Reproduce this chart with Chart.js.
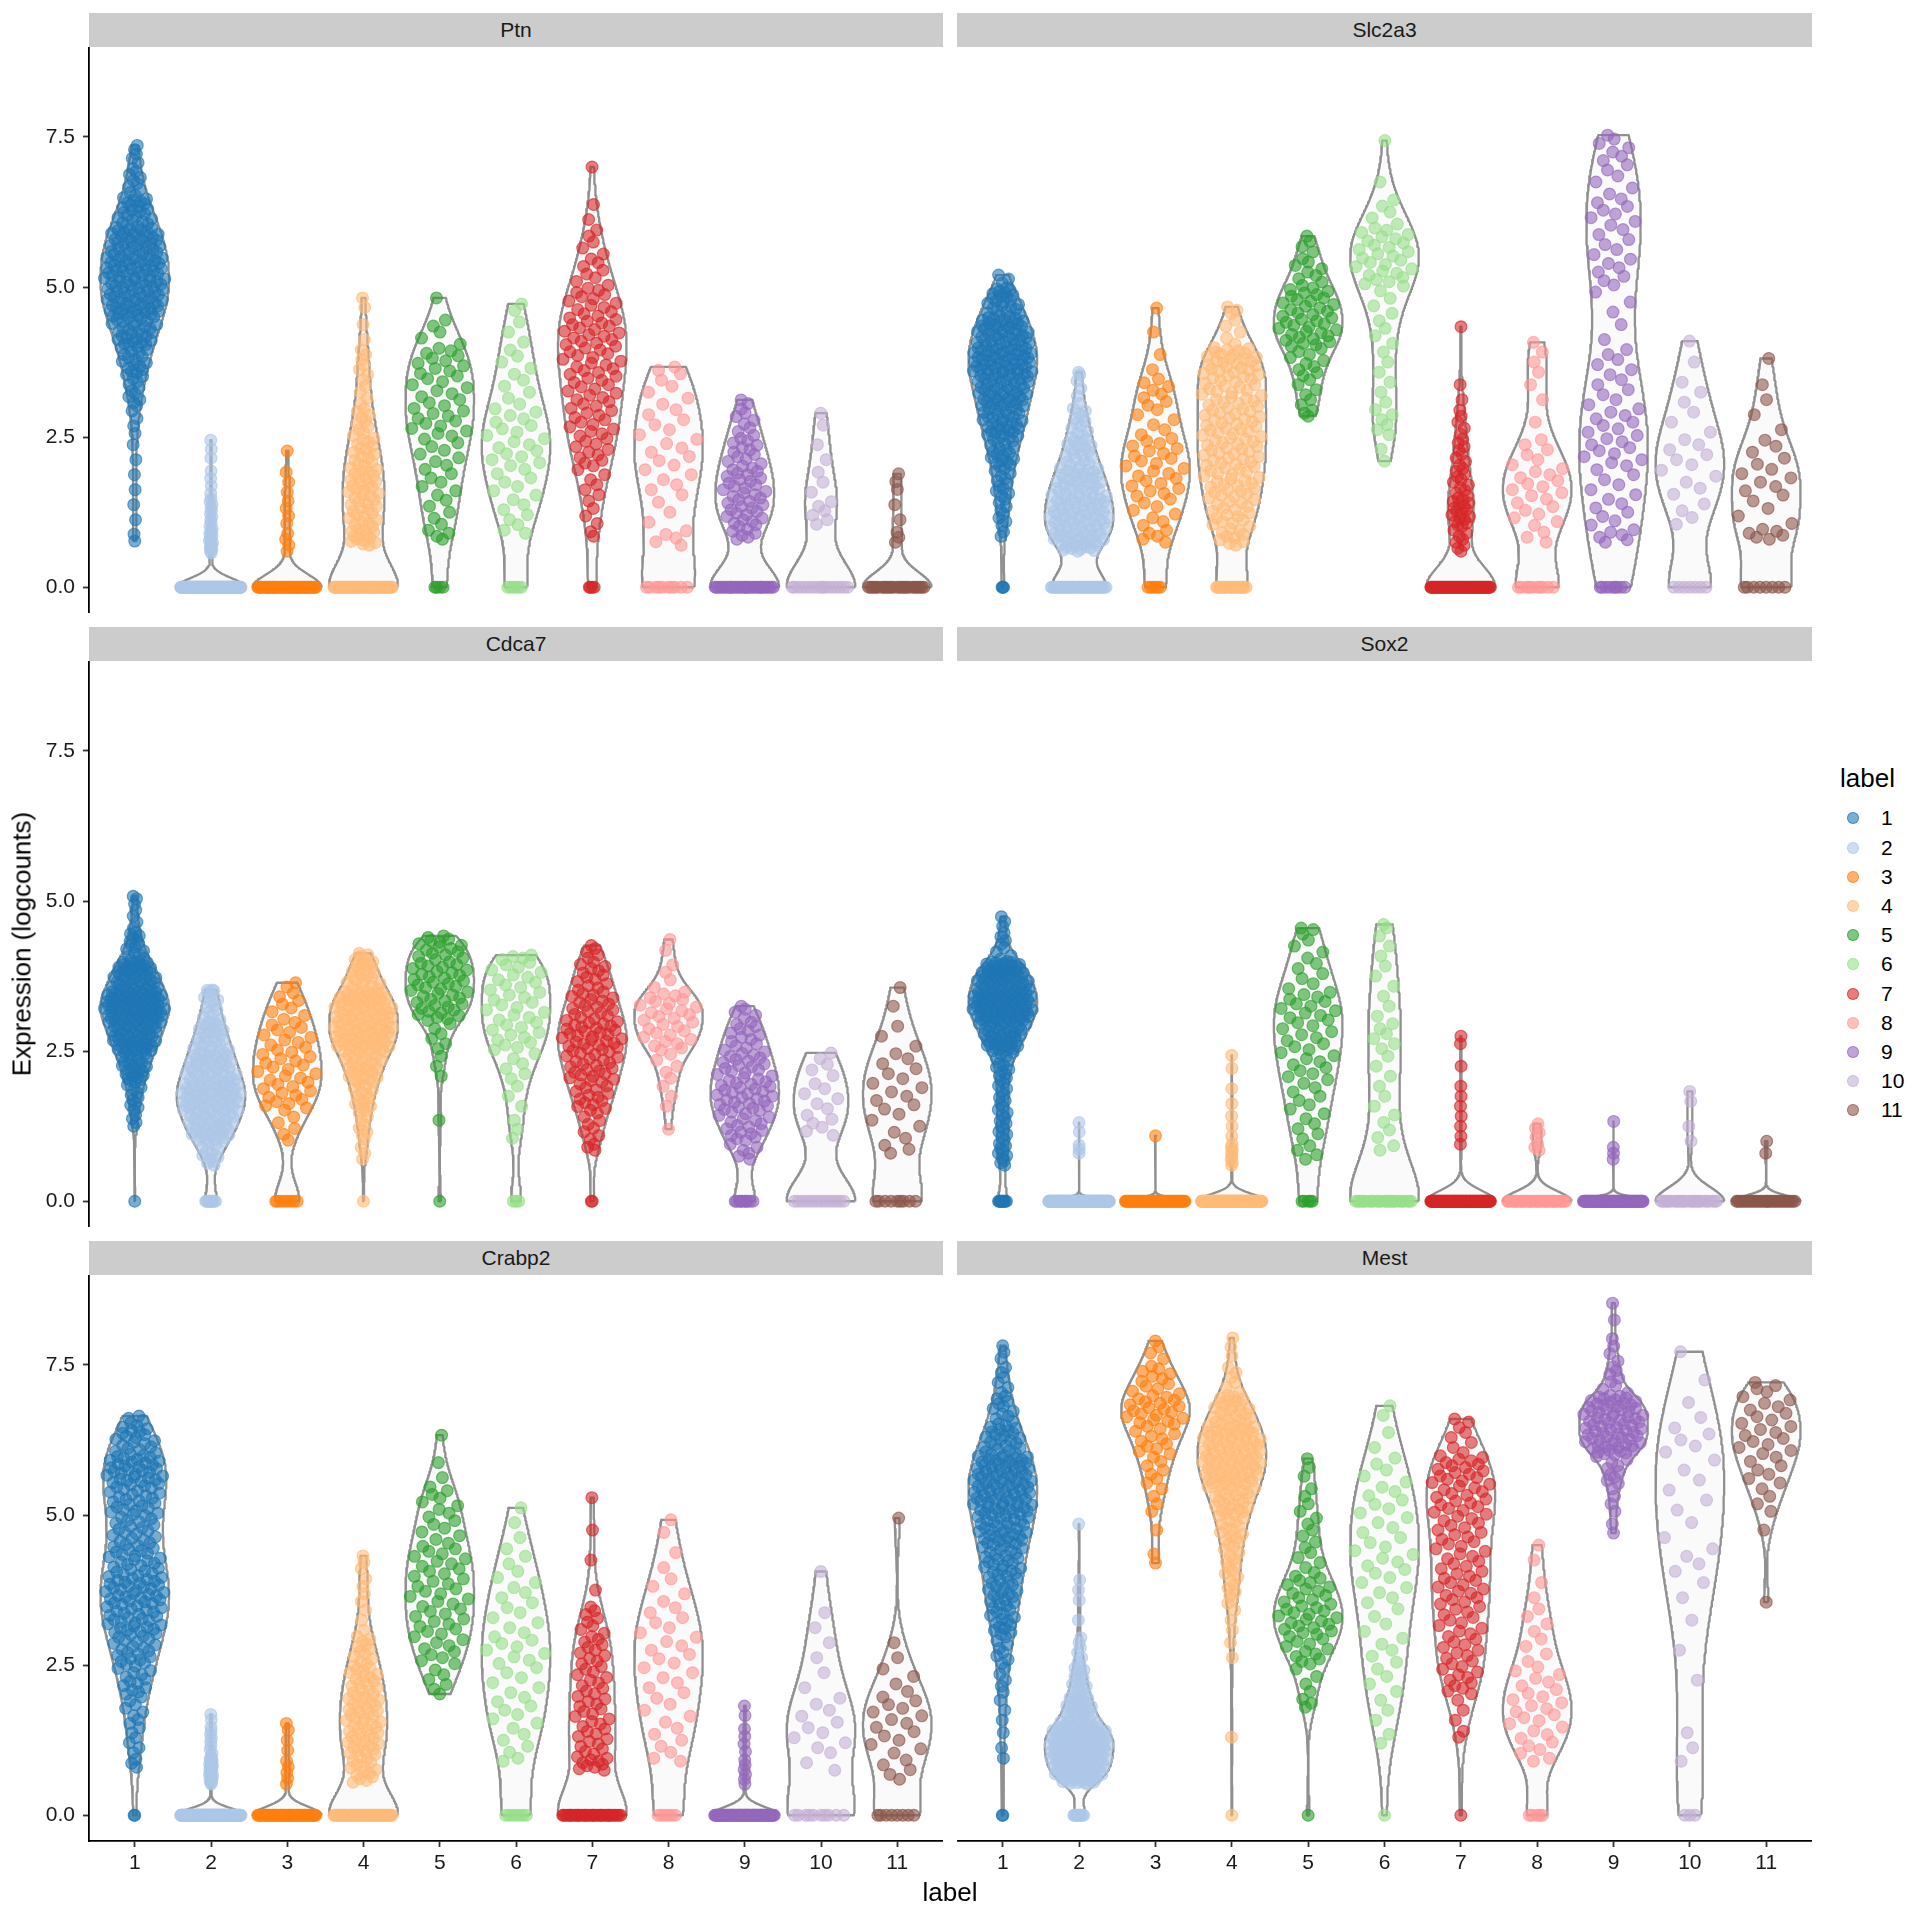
<!DOCTYPE html>
<html>
<head>
<meta charset="utf-8">
<script src="https://cdn.jsdelivr.net/npm/chart.js@4.4.1/dist/chart.umd.min.js"></script>
<style>
  html, body { margin: 0; padding: 0; background: #ffffff; }
  #root { position: relative; width: 1920px; height: 1920px; overflow: hidden;
          font-family: "Liberation Sans", Arial, Helvetica, sans-serif; color: #000; }
  canvas { position: absolute; }
  .strip { position: absolute; background: #cccccc; color: #1a1a1a; font-size: 21px;
           display: flex; align-items: center; justify-content: center; }
  .txt { position: absolute; white-space: nowrap; }
  .dot { position: absolute; border-radius: 50%; box-sizing: border-box; }
</style>
</head>
<body>
<div id="root"></div>
<script>
// ---------------- data ----------------
const groupLabels = ['1','2','3','4','5','6','7','8','9','10','11'];
const geneNames = ['Ptn','Slc2a3','Cdca7','Sox2','Crabp2','Mest'];
const groupColors = ['#1f77b4','#aec7e8','#ff7f0e','#ffbb78','#2ca02c','#98df8a',
                     '#d62728','#ff9896','#9467bd','#c5b0d5','#8c564b'];
const yTickValues = [0, 2.5, 5, 7.5];
const yTickLabels = ['0.0','2.5','5.0','7.5'];
const binWidth = 0.5;
// Per cluster: [cells at exactly 0, cells in (0,0.5], (0.5,1], (1,1.5], ...]
const ptnCounts = [
  [0,0,2,2,2,2,4,10,18,30,44,46,40,24,10,5],
  [168,0,15,10,4,3],
  [53,0,4,4,3,1],
  [60,0,14,18,20,15,10,5,6,2,2],
  [4,0,4,5,7,8,12,10,12,5,1],
  [6,0,2,6,7,10,9,5,5,3,2],
  [4,0,2,4,6,11,13,14,16,18,14,8,5,2,1],
  [10,0,5,3,6,7,6,5,3],
  [35,0,6,18,18,13,8,2],
  [17,0,0,6,3,2,2],
  [27,0,3,2,3]
];
const ptnMin = [0.77,0.57,0.6,0.7,0.8,0.9,0.85,0.7,0.8,1.05,0.75];
const ptnMax = [7.36,2.45,2.27,4.82,4.82,4.72,7.0,3.67,3.12,2.9,1.89];

const slc2a3Counts = [
  [3,0,2,8,12,20,32,40,52,43,25,3],
  [45,0,35,45,35,20,12,4,2],
  [6,0,5,8,12,12,6,8,2,1,1],
  [20,0,10,18,22,24,24,22,28,5,3],
  [0,0,0,0,0,0,3,6,10,20,18,9,4],
  [0,0,0,0,0,2,6,3,3,4,4,14,14,5,1,1],
  [64,0,8,18,11,8,5,2,0,1],
  [10,0,3,8,10,6,1,2,3,1],
  [9,0,6,7,6,10,9,6,6,2,3,7,6,8,5,7,1],
  [7,0,0,4,5,6,3,3,1,1],
  [8,0,6,4,7,5,2,2,1]
];
const slc2a3Min = [0.85,0.6,0.75,0.7,2.85,2.1,0.6,0.75,0.75,1.05,0.8];
const slc2a3Max = [5.2,3.58,4.65,4.67,5.85,7.44,4.34,4.08,7.53,4.1,3.81];

const cdca7Counts = [
  [1,0,0,4,12,28,52,72,48,16,5,2],
  [10,0,12,40,55,40,25,12,3],
  [8,0,0,5,14,14,12,8,2],
  [1,0,3,8,15,28,50,48,22,5],
  [1,0,0,1,0,3,6,20,22,16],
  [3,0,0,3,3,6,12,12,12,4],
  [2,0,3,8,16,22,28,20,14,5],
  [0,0,0,1,3,5,14,16,4,2],
  [10,0,6,18,25,20,14,5],
  [14,0,0,6,6,5],
  [9,0,3,5,7,6,3,1,1]
];
const cdca7Min = [1.25,0.6,1.02,0.7,1.35,1.05,0.85,1.2,0.7,1.1,0.8];
const cdca7Max = [5.08,3.52,3.64,4.13,4.42,4.1,4.26,4.36,3.25,2.47,3.56];

const sox2Counts = [
  [10,0,10,11,10,14,44,72,58,8,3],
  [195,0,3,2],
  [64,0,0,1],
  [165,0,8,3,2,2],
  [5,0,4,6,7,10,10,13,6,5,2],
  [25,0,2,4,3,3,6,3,3,3,2],
  [111,0,1,3,3,1,2],
  [38,0,3,4],
  [95,0,3,1],
  [26,0,1,1,2],
  [33,0,2]
];
const sox2Min = [0.6,0.8,1.09,0.6,0.7,0.85,0.95,0.85,0.7,1.0,0.8];
const sox2Max = [4.74,1.31,1.09,2.43,4.55,4.61,2.75,1.29,1.33,1.83,1.0];

const crabp2Counts = [
  [2,0,3,6,8,14,20,28,32,24,20,24,32,20,4],
  [168,0,22,8,2],
  [55,0,5,3,1],
  [55,0,15,22,22,18,12,3,4,3],
  [0,0,0,0,0,6,10,12,12,12,8,8,2,1],
  [7,0,2,5,7,6,9,6,6,4,2,1],
  [38,0,10,12,12,11,11,8,1,1,1,1],
  [6,0,2,5,5,6,7,6,4,2,2],
  [88,0,6,4,2],
  [10,0,2,6,5,2,2,2,0,1],
  [8,0,5,7,8,4,2,0,0,0,1]
];
const crabp2Min = [0.8,0.52,0.52,0.55,2.02,0.9,0.75,0.9,0.52,0.75,0.6];
const crabp2Max = [6.65,1.68,1.53,4.32,6.33,5.12,5.29,4.92,1.82,4.06,4.95];

const mestCounts = [
  [2,0,1,2,3,5,8,16,20,24,32,40,40,24,12,6,3],
  [10,0,60,70,30,15,6,1,3,0,1],
  [0,0,0,0,0,0,0,0,0,2,1,4,7,12,20,12,4],
  [1,0,0,1,0,0,2,3,8,10,15,25,40,40,25,6,3],
  [1,0,0,0,3,4,12,18,14,6,5,4,3],
  [1,0,0,2,3,4,5,4,6,8,6,7,5,2,2],
  [1,0,0,2,3,11,11,11,14,12,13,16,18,6,2],
  [5,0,2,8,10,8,4,4,2,2],
  [0,0,0,0,0,0,0,0,0,0,2,4,10,35,35,8,4,1,1],
  [3,0,1,2,0,1,1,1,2,4,2,3,3,5,2,1,1],
  [0,0,0,0,0,0,0,0,1,0,1,4,7,10,9,4]
];
const mestMin = [0.95,0.52,4.2,1.3,1.8,1.2,1.3,0.9,4.7,0.9,3.55];
const mestMax = [7.82,4.85,7.9,7.95,5.94,6.82,6.6,4.5,8.53,7.72,7.21];

const panelCounts = [ptnCounts, slc2a3Counts, cdca7Counts, sox2Counts, crabp2Counts, mestCounts];
const panelMin = [ptnMin, slc2a3Min, cdca7Min, sox2Min, crabp2Min, mestMin];
const panelMax = [ptnMax, slc2a3Max, cdca7Max, sox2Max, crabp2Max, mestMax];

// ---------------- layout ----------------
const FONT = '"Liberation Sans", Arial, Helvetica, sans-serif';
const L = { colLeft: [0, 957], colWidth: [943, 855], plotLeft: [89, 957], plotWidth: [854, 855],
            rowTop: [47, 661, 1275], plotH: 566, yAxisW: 89, xAxisH: 60, stripH: 34 };
const yMin = -0.4285, yMax = 8.9985;

// ---------------- helpers ----------------
// spread each bin's cells inside the bin; the lowest / highest non-zero cells sit at the read min / max
function expand(counts, vmin, vmax) {
  const v = [];
  for (let i = 0; i < counts[0]; i++) v.push(0);
  let first = -1, last = -1;
  for (let k = 1; k < counts.length; k++) if (counts[k] > 0) { if (first < 0) first = k; last = k; }
  for (let k = 1; k < counts.length; k++) {
    const n = counts[k];
    if (!n) continue;
    let lo = (k - 1) * binWidth, hi = k * binWidth;
    const isFirst = k === first, isLast = k === last;
    if (isFirst) lo = vmin;
    if (isLast) hi = vmax;
    for (let j = 0; j < n; j++) {
      let t;
      if (isFirst && isLast) t = n > 1 ? j / (n - 1) : 0;
      else if (isFirst) t = j / n;
      else if (isLast) t = (j + 1) / n;
      else t = (j + 0.5) / n;
      v.push(lo + t * (hi - lo));
    }
  }
  return v;
}
function bwNrd0(x) {
  const n = x.length;
  const s = [...x].sort((a, b) => a - b);
  const mean = s.reduce((a, b) => a + b, 0) / n;
  const sd = Math.sqrt(s.reduce((a, b) => a + (b - mean) * (b - mean), 0) / Math.max(1, n - 1));
  const q = p => { const h = (n - 1) * p, lo = Math.floor(h); return s[lo] + (h - lo) * (s[Math.min(lo + 1, n - 1)] - s[lo]); };
  let lo = Math.min(sd, (q(0.75) - q(0.25)) / 1.34);
  if (!(lo > 0)) lo = sd > 0 ? sd : (Math.abs(s[0]) > 0 ? Math.abs(s[0]) : 1);
  return 0.9 * lo * Math.pow(n, -0.2);
}
function kde(x, bw, y) {
  let s = 0;
  for (const xi of x) { const z = (y - xi) / bw; s += Math.exp(-0.5 * z * z); }
  return s;
}
function violinPolygon(vals, xc) {
  if (vals.length < 2) return null;
  const mn = Math.min(...vals), mx = Math.max(...vals);
  if (mx - mn <= 0) return null;
  const bw = bwNrd0(vals);
  const N = 220, ys = [], ds = [];
  for (let i = 0; i <= N; i++) { const y = mn + (mx - mn) * i / N; ys.push(y); ds.push(kde(vals, bw, y)); }
  const dmax = Math.max(...ds);
  const half = 0.45;
  const right = ys.map((y, i) => ({ x: xc + half * ds[i] / dmax, y }));
  const left = ys.map((y, i) => ({ x: xc - half * ds[i] / dmax, y })).reverse();
  const poly = right.concat(left);
  poly.push({ x: right[0].x, y: right[0].y });
  return poly;
}
function vdc(n) { let r = 0, f = 0.5; while (n > 0) { r += f * (n % 2); n = Math.floor(n / 2); f /= 2; } return r; }
function quasiPoints(vals, xc) {
  const n = vals.length;
  if (!n) return [];
  const bw = 0.8 * bwNrd0(vals);
  const mn = Math.min(...vals), mx = Math.max(...vals);
  let dmax = 0;
  for (let i = 0; i <= 200; i++) {
    const y = (mn - 3 * bw) + (mx - mn + 6 * bw) * i / 200;
    dmax = Math.max(dmax, kde(vals, bw, y));
  }
  const idx = vals.map((v, i) => i).sort((a, b) => vals[a] - vals[b] || a - b);
  const rank = new Array(n);
  idx.forEach((k, r) => { rank[k] = r + 1; });
  return vals.map((v, i) => {
    const d = dmax > 0 ? kde(vals, bw, v) / dmax : 1;
    const off = (vdc(rank[i]) - 0.5) * 2 * 0.4 * d;
    return { x: xc + off, y: v };
  });
}
function rgba(hex, a) {
  const r = parseInt(hex.slice(1, 3), 16), g = parseInt(hex.slice(3, 5), 16), b = parseInt(hex.slice(5, 7), 16);
  return `rgba(${r},${g},${b},${a})`;
}

// ---------------- build ----------------
const root = document.getElementById('root');

function addText(text, css) {
  const d = document.createElement('div');
  d.className = 'txt';
  d.textContent = text;
  Object.assign(d.style, css);
  root.appendChild(d);
  return d;
}

function buildPanel(p) {
  const col = p % 2, row = Math.floor(p / 2);
  const showY = col === 0, showX = row === 2;
  const w = L.colWidth[col], h = L.plotH + (showX ? L.xAxisH : 0);

  const strip = document.createElement('div');
  strip.className = 'strip';
  strip.textContent = geneNames[p];
  Object.assign(strip.style, { left: L.plotLeft[col] + 'px', top: (L.rowTop[row] - L.stripH) + 'px',
                               width: L.plotWidth[col] + 'px', height: L.stripH + 'px' });
  root.appendChild(strip);

  const canvas = document.createElement('canvas');
  canvas.width = w; canvas.height = h;
  Object.assign(canvas.style, { left: L.colLeft[col] + 'px', top: L.rowTop[row] + 'px', width: w + 'px', height: h + 'px' });
  root.appendChild(canvas);

  const datasets = [];
  panelCounts[p].forEach((counts, gi) => {
    const vals = expand(counts, panelMin[p][gi], panelMax[p][gi]);
    const xc = gi + 1;
    const poly = violinPolygon(vals, xc);
    if (poly) {
      datasets.push({ label: 'violin ' + groupLabels[gi], data: poly, order: 2, showLine: true,
        borderColor: '#909090', borderWidth: 2.3, backgroundColor: '#fafafa', fill: 'shape',
        pointRadius: 0, pointHoverRadius: 0, tension: 0, borderJoinStyle: 'round' });
    }
    datasets.push({ label: groupLabels[gi], data: quasiPoints(vals, xc), order: 1, showLine: false,
      pointRadius: 5.9, pointHoverRadius: 5.9, pointBorderWidth: 1.2,
      pointBackgroundColor: rgba(groupColors[gi], 0.6), pointBorderColor: rgba(groupColors[gi], 0.65),
      backgroundColor: rgba(groupColors[gi], 0.6), borderColor: rgba(groupColors[gi], 0.65) });
  });

  const tickFont = { family: FONT, size: 21 };
  new Chart(canvas, {
    type: 'line',
    data: { datasets },
    options: {
      responsive: false, animation: false, events: [],
      layout: { padding: 0, autoPadding: false },
      plugins: { legend: { display: false }, tooltip: { enabled: false } },
      scales: {
        x: {
          type: 'linear', min: 0.4, max: 11.6, display: showX,
          afterBuildTicks: s => { s.ticks = groupLabels.map((l, i) => ({ value: i + 1 })); },
          afterFit: showX ? (s => { s.height = L.xAxisH; s.paddingLeft = 0; s.paddingRight = 0; }) : undefined,
          ticks: { callback: v => groupLabels[Math.round(v) - 1] || '', color: '#1a1a1a', font: tickFont,
                   padding: 3.5, maxRotation: 0, minRotation: 0, autoSkip: false },
          grid: { display: true, drawOnChartArea: false, drawTicks: true, tickLength: 6, tickWidth: 1.8, color: '#333333' },
          border: { display: true, color: '#000000', width: 1.8 }
        },
        y: {
          type: 'linear', min: yMin, max: yMax, display: showY,
          afterBuildTicks: s => { s.ticks = yTickValues.map(v => ({ value: v })); },
          afterFit: showY ? (s => { s.width = L.yAxisW; s.paddingTop = 0; s.paddingBottom = 0; }) : undefined,
          ticks: { callback: v => { const i = yTickValues.indexOf(v); return i >= 0 ? yTickLabels[i] : ''; },
                   color: '#1a1a1a', font: tickFont, padding: 8, autoSkip: false },
          grid: { display: true, drawOnChartArea: false, drawTicks: true, tickLength: 6, tickWidth: 1.8, color: '#333333' },
          border: { display: true, color: '#000000', width: 1.8 }
        }
      }
    }
  });
}

for (let p = 0; p < 6; p++) buildPanel(p);

// axis titles
addText('Expression (logcounts)', { left: '22px', top: '944px', fontSize: '26px',
  transform: 'translate(-50%, -50%) rotate(-90deg)' });
addText('label', { left: '950px', top: '1892px', fontSize: '26px', transform: 'translate(-50%, -50%)' });

// legend
addText('label', { left: '1840px', top: '778px', fontSize: '26px', transform: 'translateY(-50%)' });
groupLabels.forEach((lab, i) => {
  const cy = 818.3 + 29.2 * i;
  const d = document.createElement('div');
  d.className = 'dot';
  Object.assign(d.style, { left: (1853 - 6) + 'px', top: (cy - 6) + 'px', width: '12px', height: '12px',
    background: rgba(groupColors[i], 0.6), border: '1.2px solid ' + rgba(groupColors[i], 0.65) });
  root.appendChild(d);
  addText(lab, { left: '1881px', top: cy + 'px', fontSize: '21px', transform: 'translateY(-50%)' });
});
</script>
</body>
</html>
